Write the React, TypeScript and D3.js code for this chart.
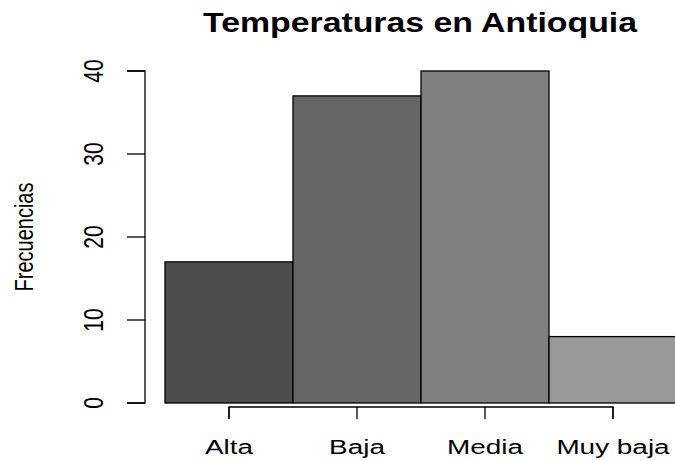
import React from 'react';
import * as d3 from 'd3';

const categories = ['Alta', 'Baja', 'Media', 'Muy baja'];
const frequencies = [17, 37, 40, 8];
const barColors = ['#4d4d4d', '#666666', '#808080', '#999999'];
const yTicks = [0, 10, 20, 30, 40];

const width = 675;
const height = 461;
const font = 'Liberation Sans, Arial, Helvetica, sans-serif';
const sx = 1.33; // the reference is stretched horizontally

export default function App() {
  // bars touch each other (space = 0), last one runs off the right edge
  const x = d3.scaleBand<string>().domain(categories).range([165, 677]).padding(0);
  const y = d3.scaleLinear().domain([0, 40]).range([403, 71]);

  const centers = categories.map((c) => (x(c) as number) + x.bandwidth() / 2);
  const axisY = 407;
  const axisX = 145;

  return (
    <svg
      width={width}
      height={height}
      style={{ position: 'absolute', left: 0, top: 0, background: '#fff' }}
      fontFamily={font}
    >
      <rect width={width} height={height} fill="#fff" />

      {/* bars */}
      {categories.map((c, i) => (
        <rect
          key={c}
          x={x(c)}
          y={y(frequencies[i])}
          width={x.bandwidth()}
          height={y(0) - y(frequencies[i])}
          fill={barColors[i]}
          stroke="#000"
          strokeWidth={1.3}
        />
      ))}

      {/* y axis */}
      <path
        d={`M${axisX - 18},${y(0)}H${axisX}V${y(40)}H${axisX - 18}`}
        fill="none"
        stroke="#000"
        strokeWidth={1.3}
      />
      {yTicks.map((t) => (
        <g key={t}>
          <line x1={axisX - 18} x2={axisX} y1={y(t)} y2={y(t)} stroke="#000" strokeWidth={1.3} />
          <g transform={`translate(103,${y(t)}) scale(${sx},1) rotate(-90)`}>
            <text textAnchor="middle" fontSize={21} fill="#000">
              {t}
            </text>
          </g>
        </g>
      ))}

      {/* x axis */}
      <path
        d={`M${centers[0]},${axisY + 12}V${axisY}H${centers[centers.length - 1]}V${axisY + 12}`}
        fill="none"
        stroke="#000"
        strokeWidth={1.3}
      />
      {categories.map((c, i) => (
        <g key={c}>
          <line x1={centers[i]} x2={centers[i]} y1={axisY} y2={axisY + 12} stroke="#000" strokeWidth={1.3} />
          <g transform={`translate(${centers[i]},454) scale(${sx},1)`}>
            <text textAnchor="middle" fontSize={21} fill="#000">
              {c}
            </text>
          </g>
        </g>
      ))}

      {/* axis title */}
      <g transform={`translate(33,${(y(0) + y(40)) / 2}) scale(${sx},1) rotate(-90)`}>
        <text textAnchor="middle" fontSize={20} fill="#000">
          Frecuencias
        </text>
      </g>

      {/* main title */}
      <text
        x={420}
        y={32}
        textAnchor="middle"
        fontSize={28}
        fontWeight="bold"
        fill="#000"
        textLength={434}
        lengthAdjust="spacingAndGlyphs"
      >
        Temperaturas en Antioquia
      </text>
    </svg>
  );
}
